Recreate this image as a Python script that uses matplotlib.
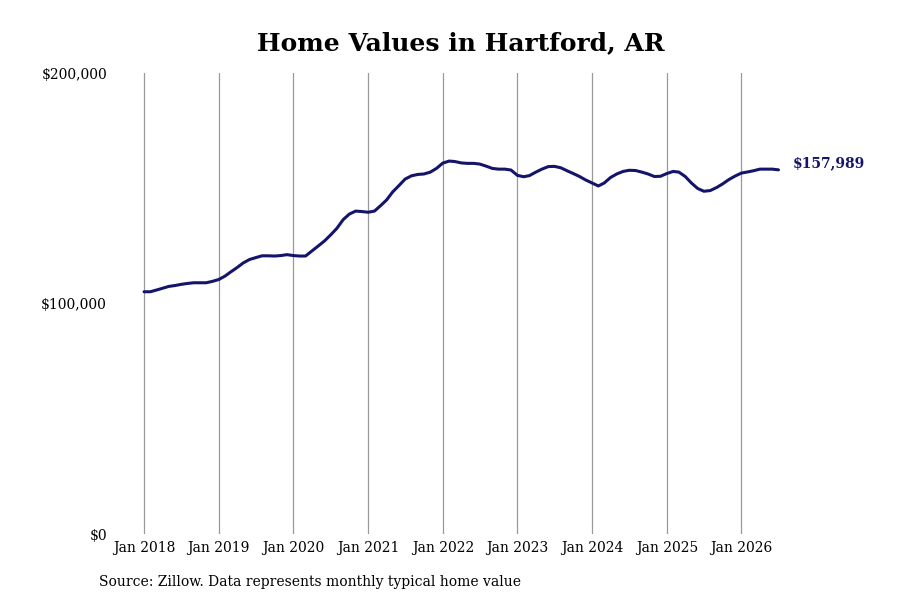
import matplotlib
matplotlib.use("Agg")
import matplotlib.pyplot as plt
import matplotlib.dates as mdates
import numpy as np
import pandas as pd

plt.rcParams['font.family'] = ['DejaVu Serif']

# monthly typical home value, Jan 2018 .. Jul 2026
values = [
    105100, 105100, 105800, 106600, 107400, 107800, 108300, 108700, 109000, 109000,
    109000, 109600, 110400, 111900, 113700, 115600, 117600, 119100, 119900, 120700,
    120700, 120600, 120800, 121200, 120800, 120600, 120600, 122800, 124900, 127100,
    129700, 132600, 136400, 138800, 140100, 139900, 139600, 140100, 142300, 144900,
    148400, 151200, 154000, 155400, 156000, 156200, 157000, 158600, 160900, 161800,
    161600, 161000, 160800, 160800, 160500, 159600, 158600, 158300, 158300, 157900,
    155600, 155000, 155500, 157000, 158300, 159400, 159500, 158900, 157600, 156400,
    155100, 153600, 152300, 151000, 152300, 154700, 156200, 157300, 157800, 157700,
    157000, 156200, 155100, 155200, 156400, 157300, 157000, 155100, 152300, 149900,
    148700, 149000, 150300, 151900, 153800, 155300, 156600, 157100, 157600, 158300,
    158300, 158300, 157989,
]
dates = pd.date_range("2018-01-01", periods=len(values), freq="MS")
years = list(range(2018, 2027))
y_ticks = [0, 100000, 200000]
y_labels = ["$0", "$100,000", "$200,000"]

fig = plt.figure(figsize=(9, 6), dpi=100)
ax = fig.add_axes([0.1328, 0.11, 0.7458, 0.7683])

ax.plot(dates, values, color="#14146b", linewidth=2.2, solid_capstyle="round")

x0 = mdates.date2num(pd.Timestamp("2018-01-01"))
x1 = mdates.date2num(dates[-1])
ax.set_xlim(x0 - 120, x1 + 60)
ax.set_ylim(0, 200000)

ax.set_xticks([mdates.date2num(pd.Timestamp(f"{y}-01-01")) for y in years])
ax.set_xticklabels([f"Jan {y}" for y in years], fontsize=10)
ax.set_yticks(y_ticks)
ax.set_yticklabels(y_labels, fontsize=10)
ax.tick_params(axis="both", length=0)
ax.tick_params(axis="x", pad=5)
ax.tick_params(axis="y", pad=9)
ax.grid(axis="x", color="#999999", linewidth=0.9)
ax.grid(axis="y", visible=False)
for s in ax.spines.values():
    s.set_visible(False)

ax.annotate(f"${values[-1]:,}", xy=(x1, values[-1]), xytext=(10, 5),
            textcoords="offset points", va="center", ha="left",
            fontsize=10, fontweight="bold", color="#14146b", annotation_clip=False)

fig.text(0.512, 0.928, "Home Values in Hartford, AR", ha="center", va="center",
         fontsize=18, fontweight="bold")
fig.text(0.11, 0.03, "Source: Zillow. Data represents monthly typical home value",
         ha="left", va="center", fontsize=10)

fig.savefig("out.png", dpi=100)
